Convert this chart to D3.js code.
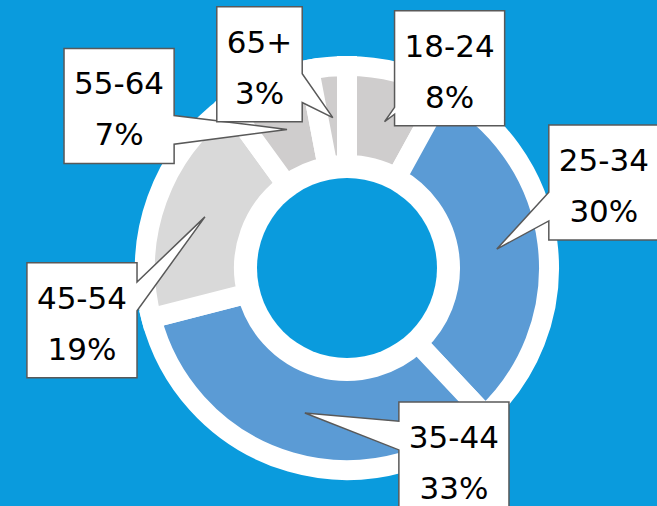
<html>
<head>
    <script src="https://d3js.org/d3.v7.min.js"></script>
</head>
<body style="margin:0">
    <svg id="donut" width="657" height="506"></svg>
    <script>
        // age groups and their share (%)
        const ages = ["18-24", "25-34", "35-44", "45-54", "55-64", "65+"]
        const shares = [8, 30, 33, 19, 7, 3]
        const sliceColors = ["#cfcdcd", "#5b9bd5", "#5b9bd5", "#d9d9d9", "#cfcdcd", "#cfcdcd"]

        // callout layout: box offset from wedge tip, side of the wedge, base fractions
        const boxOffsets = [[10, -111], [52, -124], [94, -11], [-178, 46], [-223, -81], [-116, -111]]
        const wedgeSides = ["left", "left", "left", "right", "right", "right"]
        const wedgeBase = [[0.84, 0.9], [7 / 12, 10 / 12], [2 / 12, 5 / 12], [2 / 12, 5 / 12], [7 / 12, 10 / 12], [7 / 12, 10 / 12]]

        const svg = d3.select("#donut")
        const cx = 347, cy = 268
        const bg = "#0a9bdd"

        svg.append("rect").attr("width", 657).attr("height", 506).style("fill", bg)

        const g = svg.append("g").attr("transform", `translate(${cx},${cy})`)

        g.append("circle").attr("r", 211).style("fill", "white")

        const data = ages.map((a, i) => ({ age: a, value: shares[i], color: sliceColors[i] }))
        const pie = d3.pie().value(d => d.value).sort(null)
        const arcs = pie(data)
        const arc = d3.arc().innerRadius(103).outerRadius(202)
        const tipArc = d3.arc().innerRadius(151).outerRadius(151)

        g.selectAll("path.slice").data(arcs)
            .join("path")
            .attr("class", "slice")
            .attr("d", arc)
            .style("fill", d => d.data.color)
            .style("stroke", "white")
            .style("stroke-width", 20)
            .style("stroke-linejoin", "miter")

        g.append("circle").attr("r", 90).style("fill", bg)

        function callout(x, y, w, h, tx, ty, side, f1, f2) {
            const p = d3.path()
            p.moveTo(x, y)
            if (side == "top") { p.lineTo(x + w * f1, y); p.lineTo(tx, ty); p.lineTo(x + w * f2, y) }
            p.lineTo(x + w, y)
            if (side == "right") { p.lineTo(x + w, y + h * f1); p.lineTo(tx, ty); p.lineTo(x + w, y + h * f2) }
            p.lineTo(x + w, y + h)
            if (side == "bottom") { p.lineTo(x + w * f2, y + h); p.lineTo(tx, ty); p.lineTo(x + w * f1, y + h) }
            p.lineTo(x, y + h)
            if (side == "left") { p.lineTo(x, y + h * f2); p.lineTo(tx, ty); p.lineTo(x, y + h * f1) }
            p.closePath()
            return p.toString()
        }

        const labels = svg.append("g")
        arcs.forEach((d, i) => {
            const c = tipArc.centroid(d)
            const tx = cx + c[0], ty = cy + c[1]
            const bx = tx + boxOffsets[i][0], by = ty + boxOffsets[i][1]
            const lg = labels.append("g")
            const box = lg.append("path")
            const t1 = lg.append("text").text(d.data.age)
            const t2 = lg.append("text").text(d.data.value + "%")
            lg.selectAll("text")
                .style("font-family", "DejaVu Sans, Verdana, sans-serif")
                .style("font-size", "31px")
                .style("fill", "#000")
                .attr("text-anchor", "middle")
            const w = Math.max(t1.node().getComputedTextLength(), t2.node().getComputedTextLength()) + 20
            const h = 115
            t1.attr("x", bx + w / 2).attr("y", by + 46)
            t2.attr("x", bx + w / 2).attr("y", by + 97)
            box.attr("d", callout(bx, by, w, h, tx, ty, wedgeSides[i], wedgeBase[i][0], wedgeBase[i][1]))
                .style("fill", "white")
                .style("stroke", "#595959")
                .style("stroke-width", 1.5)
        })
    </script>
</body>
</html>
